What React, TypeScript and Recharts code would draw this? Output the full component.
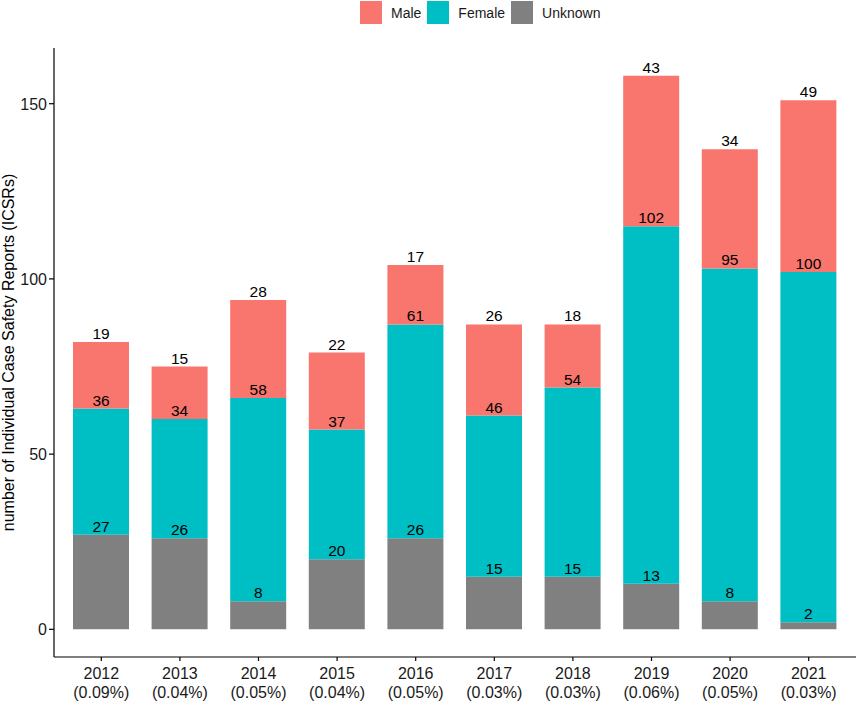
import React from "react";
import { BarChart, Bar, XAxis, YAxis, LabelList } from "recharts";

const years = ["2012", "2013", "2014", "2015", "2016", "2017", "2018", "2019", "2020", "2021"];
const shares = ["(0.09%)", "(0.04%)", "(0.05%)", "(0.04%)", "(0.05%)", "(0.03%)", "(0.03%)", "(0.06%)", "(0.05%)", "(0.03%)"];
const unknownCounts = [27, 26, 8, 20, 26, 15, 15, 13, 8, 2];
const femaleCounts = [36, 34, 58, 37, 61, 46, 54, 102, 95, 100];
const maleCounts = [19, 15, 28, 22, 17, 26, 18, 43, 34, 49];
const yTicks = [0, 50, 100, 150];

const COLORS = { male: "#F8766D", female: "#00BFC4", unknown: "#808080" };
const FONT = "'Liberation Sans', Arial, sans-serif";

const data = years.map((y, i) => ({
  year: y,
  share: shares[i],
  unknown: unknownCounts[i],
  female: femaleCounts[i],
  male: maleCounts[i],
}));

const XTick = (props: any) => {
  const { x, y, payload, index } = props;
  return (
    <g>
      <text x={x} y={y + 16} textAnchor="middle" fontSize={16} fill="#1a1a1a" fontFamily={FONT}>
        {payload.value}
      </text>
      <text x={x} y={y + 35} textAnchor="middle" fontSize={16} fill="#1a1a1a" fontFamily={FONT}>
        {shares[index]}
      </text>
    </g>
  );
};

const YTick = (props: any) => {
  const { x, y, payload } = props;
  return (
    <text x={x} y={y + 6} textAnchor="end" fontSize={16} fill="#1a1a1a" fontFamily={FONT}>
      {payload.value}
    </text>
  );
};

const SegLabel = (props: any) => {
  const { x, y, width, value } = props;
  return (
    <text x={x + width / 2} y={y - 3} textAnchor="middle" fontSize={15.5} fill="#000" fontFamily={FONT}>
      {value}
    </text>
  );
};

const YLabel = (props: any) => {
  const vb = props.viewBox || {};
  const cx = 14;
  const cy = vb.y + vb.height / 2;
  return (
    <text
      x={cx}
      y={cy}
      transform={`rotate(-90, ${cx}, ${cy})`}
      textAnchor="middle"
      fontSize={16}
      fill="#000"
      fontFamily={FONT}
    >
      number of Individual Case Safety Reports (ICSRs)
    </text>
  );
};

const legendItems = [
  { label: "Male", color: COLORS.male },
  { label: "Female", color: COLORS.female },
  { label: "Unknown", color: COLORS.unknown },
];

export default function App() {
  return (
    <div style={{ position: "absolute", left: 0, top: 0, width: 858, height: 702, background: "#fff" }}>
      <div
        style={{
          position: "absolute",
          left: 360,
          top: 1,
          display: "flex",
          alignItems: "center",
          fontFamily: FONT,
          fontSize: 14,
          color: "#1a1a1a",
        }}
      >
        {legendItems.map((it) => (
          <div key={it.label} style={{ display: "flex", alignItems: "center", marginRight: 6 }}>
            <div style={{ width: 22, height: 23, background: it.color }} />
            <span style={{ marginLeft: 9 }}>{it.label}</span>
          </div>
        ))}
      </div>
      <BarChart
        width={858}
        height={702}
        data={data}
        margin={{ top: 48, right: 2, left: 8, bottom: 5 }}
        barSize={56}
      >
        <XAxis
          dataKey="year"
          height={40}
          padding={{ left: 8, right: 8 }}
          axisLine={{ stroke: "#000", strokeWidth: 1.2 }}
          tickLine={{ stroke: "#000", strokeWidth: 1.2 }}
          tickSize={4}
          tick={<XTick />}
          interval={0}
        />
        <YAxis
          width={46}
          domain={[-7.9, 165.9]}
          allowDataOverflow
          ticks={yTicks}
          axisLine={{ stroke: "#000", strokeWidth: 1.2 }}
          tickLine={{ stroke: "#000", strokeWidth: 1.2 }}
          tickSize={5}
          tick={<YTick />}
          label={<YLabel />}
        />
        <Bar dataKey="unknown" stackId="a" fill={COLORS.unknown} isAnimationActive={false}>
          <LabelList dataKey="unknown" content={<SegLabel />} />
        </Bar>
        <Bar dataKey="female" stackId="a" fill={COLORS.female} isAnimationActive={false}>
          <LabelList dataKey="female" content={<SegLabel />} />
        </Bar>
        <Bar dataKey="male" stackId="a" fill={COLORS.male} isAnimationActive={false}>
          <LabelList dataKey="male" content={<SegLabel />} />
        </Bar>
      </BarChart>
    </div>
  );
}
